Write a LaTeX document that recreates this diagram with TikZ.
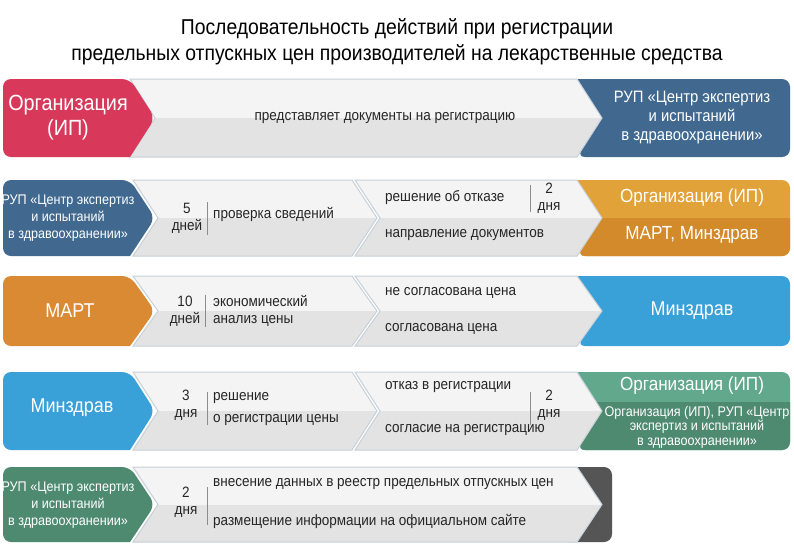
\documentclass[tikz,border=0pt]{standalone}
\usepackage{fontspec}
\setmainfont[FakeStretch=0.9]{Liberation Sans}
\definecolor{cTop}{HTML}{F4F4F4}
\definecolor{cBot}{HTML}{E3E3E3}
\definecolor{cEdge}{HTML}{C8D0D8}
\definecolor{cRed}{HTML}{D8395A}
\definecolor{cNavy}{HTML}{41698F}
\definecolor{cOr}{HTML}{E2A23A}
\definecolor{cOr2}{HTML}{D28A2A}
\definecolor{cMart}{HTML}{D98A32}
\definecolor{cSky}{HTML}{3AA0D8}
\definecolor{cGr}{HTML}{62A88C}
\definecolor{cGr2}{HTML}{4E8A70}
\definecolor{cDark}{HTML}{555555}
\newcommand\chev[5]{% x0 x1 y0 y1 d
 \fill[cTop] (#1,#3) -- (#2,#3) -- (#2+#5,{(#3+#4)/2}) -- (#2,#4) -- (#1,#4) -- (#1+#5,{(#3+#4)/2}) -- cycle;
 \begin{scope}\clip (#1,#3) -- (#2,#3) -- (#2+#5,{(#3+#4)/2}) -- (#2,#4) -- (#1,#4) -- (#1+#5,{(#3+#4)/2}) -- cycle;
 \fill[cBot] (#1,{(#3+#4)/2}) rectangle (#2+#5,#4);\end{scope}
 \draw[cEdge,line width=1pt] (#1,#3) -- (#2,#3) -- (#2+#5,{(#3+#4)/2}) -- (#2,#4) -- (#1,#4) -- (#1+#5,{(#3+#4)/2}) -- cycle;}
\newcommand\lbox[4]{% y0 y1 color xr
 \fill[#3,rounded corners=8pt] (3,#1) -- (#4,#1) -- (#4+25,{(#1+#2)/2}) [sharp corners]-- (#4,#2) [rounded corners=8pt]-- (3,#2) -- cycle;}
\newcommand\rbox[4]{%
 \fill[#3,rounded corners=8pt] (577,#1) -- (790,#1) -- (790,#2) -- (577,#2) [sharp corners]-- (602,{(#1+#2)/2}) -- cycle;}
\tikzset{
 wt/.style={text=white,align=center,inner sep=0pt},
 bt/.style={text=black!85,align=center,inner sep=0pt,font=\fontsize{15}{17}\selectfont},
 lt/.style={bt,anchor=west,align=left},
 sep/.style={draw=black!45,line width=0.6pt}}
\begin{document}
\begin{tikzpicture}[x=1pt,y=-1pt]
\useasboundingbox (0,0) rectangle (794,558);
\fill[white] (0,0) rectangle (794,558);
\node[align=center,font=\fontsize{21.5}{26}\selectfont] (title) at (397,42) {Последовательность действий при регистрации\\предельных отпускных цен производителей на лекарственные средства};
% Row 1
\rbox{79}{157}{cNavy}{}
\chev{130}{577}{79}{157}{25}
\lbox{79}{157}{cRed}{130}
\node[wt,font=\fontsize{22}{25}\selectfont] (r1a) at (68,118) {Организация\\(ИП)};
\node[bt] (r1b) at (385,118) {представляет документы на регистрацию};
\node[wt,font=\fontsize{16.5}{19}\selectfont] (r1c) at (692,118) {РУП «Центр экспертиз\\и испытаний\\в здравоохранении»};
% Row 2
\fill[cOr,rounded corners=8pt] (577,180) -- (790,180) -- (790,256) -- (577,256) [sharp corners]-- (602,218) -- cycle;
\begin{scope}\clip (577,218) rectangle (790,256);
\fill[cOr2,rounded corners=8pt] (577,180) -- (790,180) -- (790,256) -- (577,256) [sharp corners]-- (602,218) -- cycle;\end{scope}
\chev{355}{577}{180}{256}{25}
\chev{133}{352}{180}{256}{25}
\lbox{180}{256}{cNavy}{130}
\node[wt,font=\fontsize{14}{17}\selectfont] (r2a) at (68,218) {РУП «Центр экспертиз\\и испытаний\\в здравоохранении»};
\node[bt] (r2d) at (187,218) {5\\дней};
\draw[sep] (207,202) -- (207,235);
\node[lt] (r2e) at (213,214) {проверка сведений};
\node[lt] (r2f) at (385,198) {решение об отказе};
\draw[sep] (530,185) -- (530,212);
\node[bt] (r2g) at (549,198) {2\\дня};
\node[lt] (r2h) at (385,235) {направление документов};
\node[wt,font=\fontsize{19}{22}\selectfont] (r2i) at (692,198) {Организация (ИП)};
\node[wt,font=\fontsize{19}{22}\selectfont] (r2j) at (692,235) {МАРТ, Минздрав};
% Row 3
\fill[cSky,rounded corners=8pt] (577,276) -- (790,276) -- (790,346) -- (577,346) [sharp corners]-- (602,311) -- cycle;
\chev{355}{577}{276}{346}{25}
\chev{133}{352}{276}{346}{25}
\lbox{276}{346}{cMart}{130}
\node[wt,font=\fontsize{20}{23}\selectfont] (r3a) at (70,311) {МАРТ};
\node[bt] (r3d) at (185,311) {10\\дней};
\draw[sep] (205,295) -- (205,327);
\node[lt] (r3e) at (213,311) {экономический\\анализ цены};
\node[lt] (r3f) at (385,293) {не согласована цена};
\node[lt] (r3g) at (385,329) {согласована цена};
\node[wt,font=\fontsize{20}{23}\selectfont] (r3h) at (692,311) {Минздрав};
% Row 4
\fill[cGr,rounded corners=8pt] (577,372) -- (790,372) -- (790,450) -- (577,450) [sharp corners]-- (602,411) -- cycle;
\begin{scope}\clip (577,402) rectangle (790,450);
\fill[cGr2,rounded corners=8pt] (577,372) -- (790,372) -- (790,450) -- (577,450) [sharp corners]-- (602,411) -- cycle;\end{scope}
\chev{355}{577}{372}{450}{25}
\chev{133}{352}{372}{450}{25}
\lbox{372}{450}{cSky}{130}
\node[wt,font=\fontsize{20}{23}\selectfont] (r4a) at (72,408) {Минздрав};
\node[bt] (r4d) at (186,405) {3\\дня};
\draw[sep] (207,392) -- (207,425);
\node[lt] (r4e) at (213,398) {решение};
\node[lt] (r4f) at (213,420) {о регистрации цены};
\node[lt] (r4g) at (385,387) {отказ в регистрации};
\node[lt] (r4h) at (385,430) {согласие на регистрацию};
\draw[sep] (530,392) -- (530,425);
\node[bt] (r4i) at (549,405) {2\\дня};
\node[wt,font=\fontsize{19}{22}\selectfont] (r4j) at (692,386) {Организация (ИП)};
\node[wt,font=\fontsize{14}{14.5}\selectfont] (r4k) at (697,427) {Организация (ИП), РУП «Центр\\экспертиз и испытаний\\в здравоохранении»};
% Row 5
\fill[cDark,rounded corners=8pt] (560,467) rectangle (612,542);
\chev{133}{577}{467}{542}{25}
\lbox{467}{542}{cGr2}{130}
\node[wt,font=\fontsize{14}{17}\selectfont] (r5a) at (68,505) {РУП «Центр экспертиз\\и испытаний\\в здравоохранении»};
\node[bt] (r5d) at (186,502) {2\\дня};
\draw[sep] (207,487) -- (207,525);
\node[lt] (r5e) at (213,484) {внесение данных в реестр предельных отпускных цен};
\node[lt] (r5f) at (213,521) {размещение информации на официальном сайте};
\end{tikzpicture}
\end{document}
